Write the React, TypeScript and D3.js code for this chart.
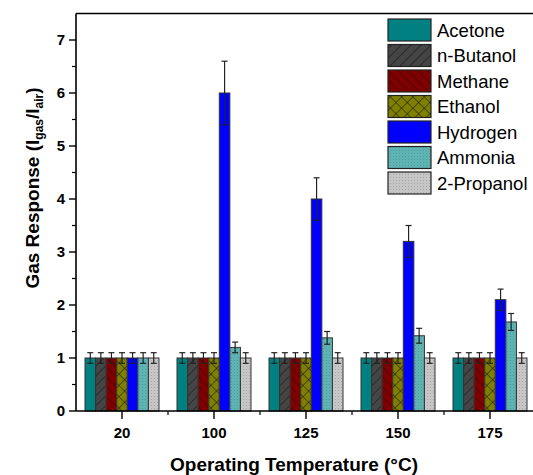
import React from "react";
import * as d3 from "d3";

const categories = ["20", "100", "125", "150", "175"];
const seriesNames = ["Acetone", "n-Butanol", "Methane", "Ethanol", "Hydrogen", "Ammonia", "2-Propanol"];
const acetone = [1, 1, 1, 1, 1];
const nButanol = [1, 1, 1, 1, 1];
const methane = [1, 1, 1, 1, 1];
const ethanol = [1, 1, 1, 1, 1];
const hydrogen = [1, 6.0, 4.0, 3.2, 2.1];
const ammonia = [1, 1.2, 1.38, 1.42, 1.68];
const propanol = [1, 1, 1, 1, 1];
const acetoneErr = [0.1, 0.1, 0.1, 0.1, 0.1];
const nButanolErr = [0.1, 0.1, 0.1, 0.1, 0.1];
const methaneErr = [0.1, 0.1, 0.1, 0.1, 0.1];
const ethanolErr = [0.1, 0.1, 0.1, 0.1, 0.1];
const hydrogenErr = [0.1, 0.6, 0.4, 0.3, 0.2];
const ammoniaErr = [0.1, 0.1, 0.12, 0.14, 0.16];
const propanolErr = [0.1, 0.1, 0.1, 0.1, 0.1];
const yTicks = [0, 1, 2, 3, 4, 5, 6, 7];

const seriesValues = [acetone, nButanol, methane, ethanol, hydrogen, ammonia, propanol];
const seriesErrors = [acetoneErr, nButanolErr, methaneErr, ethanolErr, hydrogenErr, ammoniaErr, propanolErr];
const fills = ["#008080", "url(#pButanol)", "url(#pMethane)", "url(#pEthanol)", "#0000ff", "url(#pAmmonia)", "url(#pPropanol)"];

const W = 533, H = 475;
const left = 76, right = 536, top = 13.5, bottom = 411;
const font = "Arial, 'Liberation Sans', sans-serif";

export default function App() {
  const x0 = d3.scaleBand().domain(categories).range([left, right]).paddingInner(0).paddingOuter(0);
  const groupW = 74;
  const x1 = d3.scaleBand().domain(seriesNames).range([0, groupW]).padding(0);
  const y = d3.scaleLinear().domain([0, 7.5]).range([bottom, top]);
  const minorY = d3.range(0.5, 7.5, 1);
  const bw = x0.bandwidth();
  const minorX = categories.slice(1).map((c) => x0(c)!);

  return (
    <svg width={W} height={H} style={{ position: "absolute", left: 0, top: 0, background: "#fff" }} fontFamily={font}>
      <defs>
        <pattern id="pButanol" patternUnits="userSpaceOnUse" width="7" height="7" patternTransform="rotate(45)">
          <rect width="7" height="7" fill="#454545" />
          <line x1="0" y1="0" x2="0" y2="7" stroke="#111" strokeWidth="1" />
        </pattern>
        <pattern id="pMethane" patternUnits="userSpaceOnUse" width="7" height="7" patternTransform="rotate(-45)">
          <rect width="7" height="7" fill="#800000" />
          <line x1="0" y1="0" x2="0" y2="7" stroke="#111" strokeWidth="1" />
        </pattern>
        <pattern id="pEthanol" patternUnits="userSpaceOnUse" width="8" height="8" patternTransform="rotate(45)">
          <rect width="8" height="8" fill="#808000" />
          <line x1="0" y1="0" x2="0" y2="8" stroke="#111" strokeWidth="1" />
          <line x1="0" y1="0" x2="8" y2="0" stroke="#111" strokeWidth="1" />
        </pattern>
        <pattern id="pAmmonia" patternUnits="userSpaceOnUse" width="3" height="3">
          <rect width="3" height="3" fill="#5fb3b3" />
          <rect x="0" y="0" width="1" height="1" fill="#4a9e9e" />
        </pattern>
        <pattern id="pPropanol" patternUnits="userSpaceOnUse" width="3" height="3">
          <rect width="3" height="3" fill="#c6c6c6" />
          <rect x="0" y="0" width="1" height="1" fill="#a8a8a8" />
        </pattern>
      </defs>

      {/* bars */}
      {categories.map((c, ci) => (
        <g key={c} transform={`translate(${x0(c)! + (bw - groupW) / 2},0)`}>
          {seriesNames.map((s, si) => {
            const v = seriesValues[si][ci];
            return (
              <rect key={s} x={x1(s)!} y={y(v)} width={x1.bandwidth()} height={bottom - y(v)}
                fill={fills[si]} stroke="#333" strokeWidth={1} />
            );
          })}
          {seriesNames.map((s, si) => {
            const v = seriesValues[si][ci];
            const e = seriesErrors[si][ci];
            const cx = x1(s)! + x1.bandwidth() / 2;
            return (
              <g key={s + "e"} stroke="#222" strokeWidth={1.2}>
                <line x1={cx} x2={cx} y1={y(v + e)} y2={y(v - e)} />
                <line x1={cx - 3} x2={cx + 3} y1={y(v + e)} y2={y(v + e)} />
                <line x1={cx - 3} x2={cx + 3} y1={y(v - e)} y2={y(v - e)} />
              </g>
            );
          })}
        </g>
      ))}

      {/* frame */}
      <line x1={left} x2={right} y1={top} y2={top} stroke="#000" strokeWidth={1.6} />
      <line x1={left} x2={left} y1={top} y2={bottom} stroke="#000" strokeWidth={1.6} />
      <line x1={left} x2={right} y1={bottom} y2={bottom} stroke="#000" strokeWidth={1.6} />

      {/* y ticks */}
      {yTicks.map((t) => (
        <g key={t}>
          <line x1={left - 7} x2={left} y1={y(t)} y2={y(t)} stroke="#000" strokeWidth={1.4} />
          <text x={left - 11} y={y(t)} dy="0.36em" textAnchor="end" fontSize={15} fontWeight="bold">{t}</text>
        </g>
      ))}
      {minorY.map((t) => (
        <line key={t} x1={left - 4} x2={left} y1={y(t)} y2={y(t)} stroke="#000" strokeWidth={1.2} />
      ))}

      {/* x ticks */}
      {categories.map((c) => (
        <g key={c}>
          <line x1={x0(c)! + bw / 2} x2={x0(c)! + bw / 2} y1={bottom} y2={bottom + 8} stroke="#000" strokeWidth={1.4} />
          <text x={x0(c)! + bw / 2} y={bottom + 27} textAnchor="middle" fontSize={15} fontWeight="bold">{c}</text>
        </g>
      ))}
      {minorX.map((mx) => (
        <line key={mx} x1={mx} x2={mx} y1={bottom} y2={bottom + 4} stroke="#000" strokeWidth={1.2} />
      ))}

      {/* axis titles */}
      <text x={294} y={471} textAnchor="middle" fontSize={19} fontWeight="bold">Operating Temperature (°C)</text>
      <text transform="translate(39,188) rotate(-90)" textAnchor="middle" fontSize={19} fontWeight="bold">
        Gas Response (I<tspan fontSize={12} dy={4}>gas</tspan><tspan dy={-4}>/I</tspan><tspan fontSize={12} dy={4}>air</tspan><tspan dy={-4}>)</tspan>
      </text>

      {/* legend */}
      {seriesNames.map((s, si) => {
        const ly = 19 + si * 25.5;
        return (
          <g key={s}>
            <rect x={388} y={ly} width={43} height={22} fill={fills[si]} stroke="#222" strokeWidth={1.2} />
            <text x={437} y={ly + 11} dy="0.36em" fontSize={18.5}>{s}</text>
          </g>
        );
      })}
    </svg>
  );
}
